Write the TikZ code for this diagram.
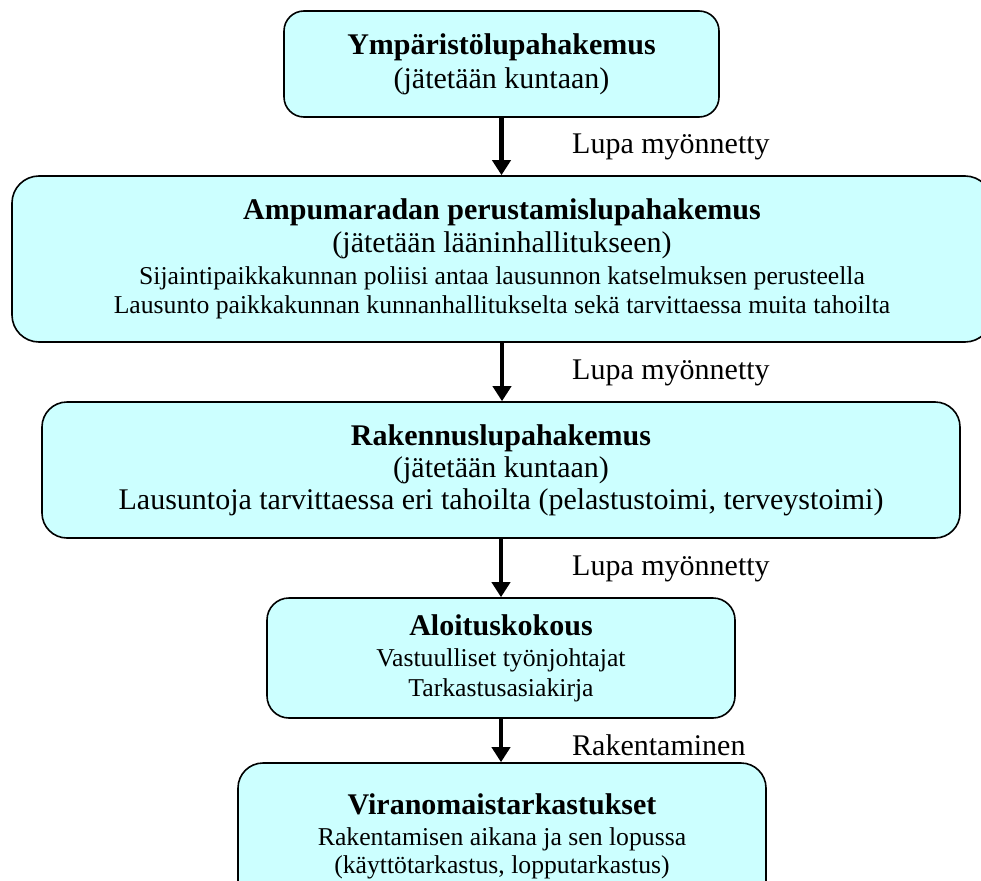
\documentclass[tikz,border=0pt]{standalone}
\usepackage{fontspec}
\setmainfont{Liberation Serif}
\usepackage{xcolor}
\definecolor{BoxFill}{RGB}{204,255,255}
\usetikzlibrary{arrows.meta}
\tikzstyle{Box}=[rectangle,draw=black,fill=BoxFill,line width=1.6pt,
rounded corners=20pt,align=center,inner sep=0pt,
font=\fontsize{30}{34}\selectfont]
\tikzstyle{Step}=[draw=black,line width=4.8pt,
-{Triangle[length=15pt,width=18pt]}]
\tikzstyle{StepLabel}=[anchor=base west,inner sep=0pt,
font=\fontsize{30}{34}\selectfont]
\newcommand{\SmallLine}{\fontsize{25.7}{29.6}\selectfont}

\begin{document}
\begin{tikzpicture}[x=1pt,y=-1pt]
    \useasboundingbox(0,0)rectangle(981,880);
    \clip(0,0)rectangle(981,880);
        \node[Box,minimum width=435pt,minimum height=106pt](b1)at(501.5,64)
            {\textbf{Ympäristölupahakemus}\\(jätetään kuntaan)};
        \node[Box,rounded corners=27pt,minimum width=980pt,
            minimum height=166pt](b2)at(502,259)
            {\textbf{Ampumaradan perustamislupahakemus}\\[-1pt]
            (jätetään lääninhallitukseen)\\[-2pt]
            {\SmallLine Sijaintipaikkakunnan poliisi antaa lausunnon katselmuksen perusteella}\\[-5pt]
            {\SmallLine Lausunto paikkakunnan kunnanhallitukselta sekä tarvittaessa muita tahoilta}};
        \node[Box,rounded corners=25pt,minimum width=918pt,
            minimum height=136pt](b3)at(501,470)
            {\textbf{Rakennuslupahakemus}\\[-2pt](jätetään kuntaan)\\[-2pt]
            Lausuntoja tarvittaessa eri tahoilta (pelastustoimi, terveystoimi)};
        \node[Box,rounded corners=22pt,minimum width=468pt,
            minimum height=120pt](b4)at(501,658)
            {\textbf{Aloituskokous}\\[-3pt]{\SmallLine Vastuulliset työnjohtajat}\\[-4pt]
            {\SmallLine Tarkastusasiakirja}};
        \node[Box,rounded corners=25pt,minimum width=528pt,
            minimum height=146pt](b5)at(502,836)
            {\textbf{Viranomaistarkastukset}\\[-3pt]
            {\SmallLine Rakentamisen aikana ja sen lopussa}\\[-6pt]
            {\SmallLine (käyttötarkastus, lopputarkastus)}};
        \draw[Step](b1.south)--(b1.south|-b2.north);
        \draw[Step](b2.south)--(b2.south|-b3.north);
        \draw[Step](b3.south)--(b3.south|-b4.north);
        \draw[Step](b4.south)--(b4.south|-b5.north);
        \node[StepLabel](l1)at(572,153){Lupa myönnetty};
        \node[StepLabel](l2)at(572,379){Lupa myönnetty};
        \node[StepLabel](l3)at(572,575){Lupa myönnetty};
        \node[StepLabel](l4)at(572,755){Rakentaminen};
    \end{tikzpicture}
\end{document}
